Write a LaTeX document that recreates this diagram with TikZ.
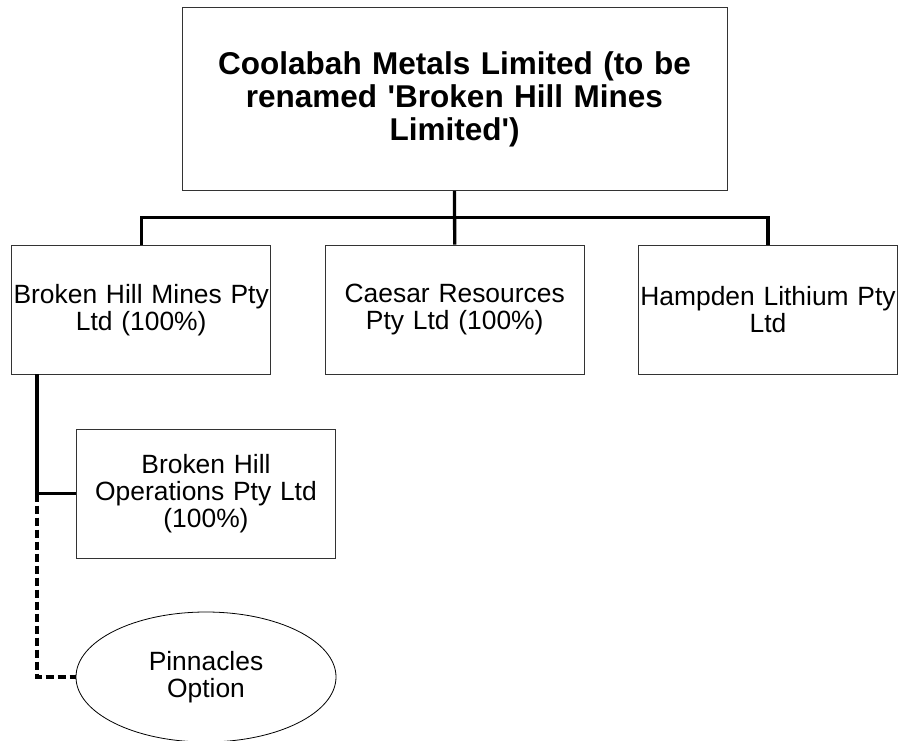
\documentclass[tikz,border=0pt]{standalone}
\usepackage{fontspec}
\setmainfont{Liberation Sans}
\usetikzlibrary{shapes.geometric}
\begin{document}
\begin{tikzpicture}[x=1pt,y=-1pt,
  box/.style={draw=black!80, line width=1pt, fill=white, inner sep=0pt, align=center,
    font=\fontsize{26.4}{27}\selectfont},
  titlebox/.style={box, font=\bfseries\fontsize{31.5}{32.7}\selectfont},
  oval/.style={ellipse, draw=black, line width=0.8pt, fill=white, inner sep=0pt, align=center,
    font=\fontsize{26.4}{27}\selectfont},
  conn/.style={line width=3.3pt, black},
  optconn/.style={line width=3.3pt, black, dash pattern=on 8pt off 4pt}]
\useasboundingbox (0,0) rectangle (900,740);

\node[titlebox, minimum width=545pt, minimum height=182.7pt, text width=545pt] (top) at (454.5,99.3)
  {Coolabah Metals Limited (to be\\renamed \textquotesingle Broken Hill Mines\\Limited\textquotesingle)};

\node[box, minimum width=259pt, minimum height=129.3pt, text width=259pt] (b1) at (141.2,309.7)
  {Broken Hill Mines Pty\\Ltd (100\%)};
\node[box, minimum width=259.3pt, minimum height=129.3pt, text width=259.3pt] (b2) at (454.7,309.7)
  {Caesar Resources\\Pty Ltd (100\%)};
\node[box, minimum width=259.4pt, minimum height=129.3pt, text width=259.4pt] (b3) at (768,309.7)
  {Hampden Lithium Pty\\Ltd};

\node[box, minimum width=259.7pt, minimum height=129.3pt, text width=259.7pt] (b4) at (206,493.7)
  {Broken Hill\\Operations Pty Ltd\\(100\%)};

\node[oval, minimum width=260pt, minimum height=130pt] (opt) at (206,677)
  {Pinnacles\\Option};

\coordinate (bar) at (454.5,217.5);
\coordinate (b1out) at (37,374.3);
\coordinate (junc) at (37,493.7);

\draw[conn] (top.south) -- (b2.north);
\draw[conn] (b1.north) |- (bar) -| (b3.north);
\draw[conn] (b1out) |- (b4.west);
\draw[optconn] (junc) |- (opt.west);
\end{tikzpicture}
\end{document}
